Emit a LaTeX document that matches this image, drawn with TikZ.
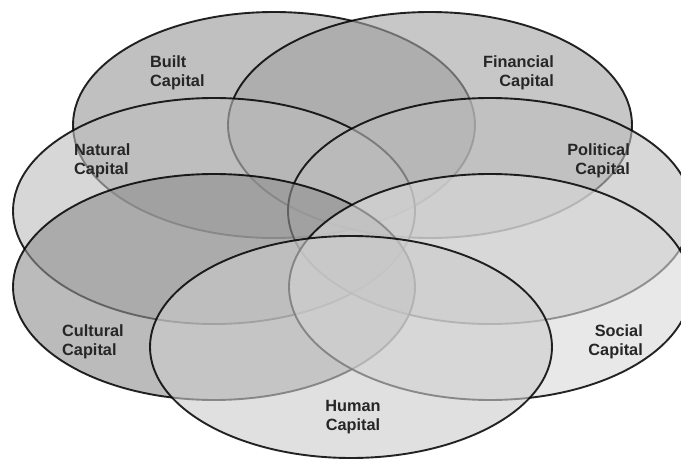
\documentclass[tikz,border=0pt]{standalone}
\usepackage{fontspec}
\setmainfont{Liberation Sans}
\definecolor{cBuilt}{gray}{0.59}
\definecolor{cFin}{gray}{0.64}
\definecolor{cNat}{gray}{0.74}
\definecolor{cPol}{gray}{0.74}
\definecolor{cCul}{gray}{0.56}
\definecolor{cSoc}{gray}{0.85}
\definecolor{cHum}{gray}{0.80}
\definecolor{ctext}{gray}{0.15}
\begin{document}
\begin{tikzpicture}[x=1pt,y=-1pt,
  capring/.style={draw=black, draw opacity=0.85, line width=1.9pt, fill opacity=0.6},
  lbl/.style={inner sep=0pt, font=\fontsize{16.3}{19.5}\selectfont\bfseries, text=ctext}]
\useasboundingbox (0,0) rectangle (681,460);
\clip (0,0) rectangle (681,460);
\fill[white] (0,0) rectangle (681,460);
\coordinate (cb) at (274,125);
\coordinate (cf) at (430,125);
\coordinate (cn) at (214,211);
\coordinate (cp) at (490,211);
\coordinate (cc) at (214,287);
\coordinate (cs) at (490,287);
\coordinate (ch) at (351,347);
\path[capring, fill=cBuilt] (cb) ellipse [x radius=201pt, y radius=113pt];
\path[capring, fill=cFin] (cf) ellipse [x radius=202pt, y radius=113pt];
\path[capring, fill=cNat] (cn) ellipse [x radius=201pt, y radius=113pt];
\path[capring, fill=cPol] (cp) ellipse [x radius=202pt, y radius=113pt];
\path[capring, fill=cCul] (cc) ellipse [x radius=201pt, y radius=113pt];
\path[capring, fill=cSoc] (cs) ellipse [x radius=201pt, y radius=113pt];
\path[capring, fill=cHum] (ch) ellipse [x radius=201pt, y radius=111pt];
\node[lbl, anchor=north west, align=left] (lb) at (150,55) {Built\\Capital};
\node[lbl, anchor=north east, align=right] (lf) at (554,55) {Financial\\Capital};
\node[lbl, anchor=north west, align=left] (ln) at (74,143) {Natural\\Capital};
\node[lbl, anchor=north east, align=right] (lp) at (630,143) {Political\\Capital};
\node[lbl, anchor=north west, align=left] (lc) at (62,324) {Cultural\\Capital};
\node[lbl, anchor=north east, align=right] (ls) at (643,324) {Social\\Capital};
\node[lbl, anchor=north, align=center] (lh) at (353,400) {Human\\Capital};
\end{tikzpicture}
\end{document}
